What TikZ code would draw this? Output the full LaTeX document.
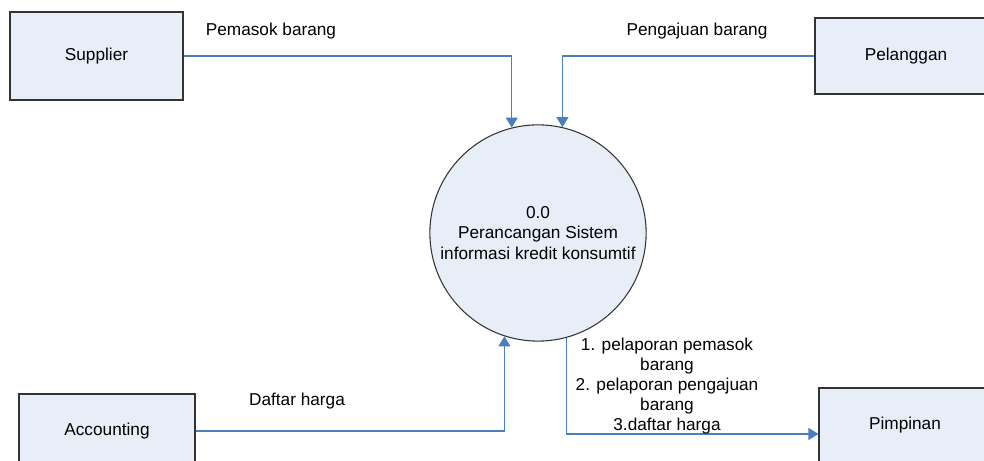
\documentclass[tikz,border=0pt]{standalone}
\usepackage{fontspec}
\setmainfont{Liberation Sans}
\usetikzlibrary{arrows.meta}
\definecolor{boxfill}{RGB}{232,238,248}
\definecolor{flow}{RGB}{74,126,193}
\tikzset{
  entity/.style={draw=black!80, fill=boxfill, line width=0.6pt, minimum width=3.5cm, minimum height=1.5cm, font=\fontsize{9.8}{11.5}\selectfont},
  process/.style={circle, draw=black!80, fill=boxfill, line width=0.6pt, minimum size=4.2cm, align=center, font=\fontsize{9.8}{11.5}\selectfont},
  flowline/.style={draw=flow, line width=0.6pt, -{Triangle[length=0.2cm, width=0.24cm]}},
  flowlabel/.style={align=center, font=\fontsize{9.8}{11.5}\selectfont}
}
\begin{document}
\begin{tikzpicture}
  \useasboundingbox (0,0) rectangle (19.68,9.22);
  \clip (0,0) rectangle (19.68,9.22);
  % external entities
  \node [entity, minimum width=3.46cm, minimum height=1.76cm] (sup) at (1.93,8.1) {Supplier};
  \node [entity, minimum width=3.64cm, minimum height=1.52cm] (pel) at (18.12,8.1) {Pelanggan};
  \node [entity, minimum width=3.52cm, minimum height=1.48cm] (acc) at (2.14,0.6) {Accounting};
  \node [entity, minimum width=3.44cm, minimum height=1.48cm] (pim) at (18.1,0.72) {Pimpinan};
  % process
  \node [process] (sis) at (10.76,4.56) {0.0\\Perancangan Sistem\\informasi kredit konsumtif};
  % flows
  \draw [flowline] (sup.east) -| (sis.104);
  \draw [flowline] (pel.west) -| (sis.77);
  \draw [flowline] (acc.east) -| (sis.252);
  \draw [flowline] (sis.285) |- ([yshift=-0.18cm]pim.west);
  \node [flowlabel] (lpemasok) at (5.42,8.6) {Pemasok barang};
  \node [flowlabel] (lpengajuan) at (13.94,8.6) {Pengajuan barang};
  \node [flowlabel] (lharga) at (5.94,1.2) {Daftar harga};
  \node [flowlabel] (llapor) at (13.34,1.5) {1. pelaporan pemasok\\barang\\2. pelaporan pengajuan\\barang\\3.daftar harga};
\end{tikzpicture}
\end{document}
